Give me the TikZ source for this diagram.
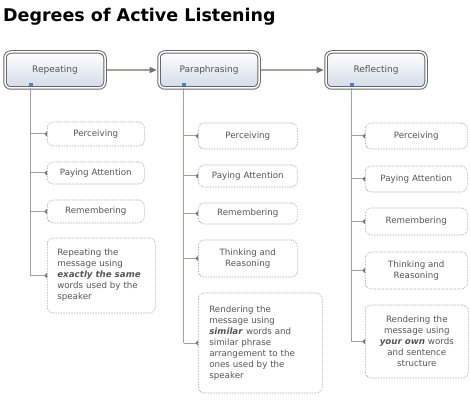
\documentclass[tikz,border=0pt]{standalone}
\usepackage{fontspec}
\setmainfont{DejaVu Sans}
\usetikzlibrary{arrows.meta,positioning}
\definecolor{linegray}{RGB}{165,160,152}
\definecolor{tipgray}{RGB}{115,115,115}
\definecolor{rimgray}{RGB}{105,105,105}
\definecolor{dotgray}{RGB}{135,135,135}
\definecolor{txtgray}{RGB}{85,85,85}
\definecolor{boxblue}{RGB}{210,219,232}
\definecolor{iconblue}{RGB}{70,130,210}
\tikzset{
  mainbox/.style={draw=rimgray,line width=1pt,double=white,double distance=1.5pt,
    rounded corners=6pt,top color=white,middle color=white,bottom color=boxblue,
    minimum width=100pt,minimum height=36pt,text=txtgray,font=\fontsize{9}{10}\selectfont},
  subbox/.style={draw=dotgray,densely dotted,line width=0.6pt,rounded corners=6pt,anchor=west,align=center,
    text=txtgray,font=\fontsize{8.7}{11}\selectfont},
  trunk/.style={draw=linegray,line width=1.2pt},
  branch/.style={draw=linegray,line width=1pt,-{Triangle[reversed,length=2.5pt,width=5pt,color=tipgray]}},
  flow/.style={draw=linegray,line width=1.2pt,shorten >=1.8pt,shorten <=1.8pt,
    -{Triangle[length=7pt,width=6pt,color=tipgray]}}
}
\begin{document}
\begin{tikzpicture}[x=1pt,y=-1pt]
\useasboundingbox (0,0) rectangle (470,403);
\node[anchor=base west,inner sep=0pt,font=\fontsize{17.5}{20}\selectfont\bfseries] (title) at (3,22) {Degrees of Active Listening};

% the three degrees
\node[mainbox] (rep) at (55,70) {Repeating};
\node[mainbox,right=53pt of rep] (para) {Paraphrasing};
\node[mainbox,right=66pt of para] (refl) {Reflecting};
\draw[flow] (rep) -- (para);
\draw[flow] (para) -- (refl);

\coordinate (t1) at ([xshift=26pt]rep.south west);
\coordinate (t2) at ([xshift=25pt]para.south west);
\coordinate (t3) at ([xshift=26pt]refl.south west);
\fill[iconblue] ([shift={(-2pt,2.5pt)}]t1) rectangle ([shift={(2pt,5.5pt)}]t1);
\fill[iconblue] ([shift={(-2pt,2.5pt)}]t2) rectangle ([shift={(2pt,5.5pt)}]t2);
\fill[iconblue] ([shift={(-2pt,2.5pt)}]t3) rectangle ([shift={(2pt,5.5pt)}]t3);

% repeating
\node[subbox,minimum width=97pt,minimum height=24pt] (perc1) at (47,134) {Perceiving};
\node[subbox,minimum width=97pt,minimum height=22pt] (pay1) at (47,173) {Paying Attention};
\node[subbox,minimum width=97pt,minimum height=23pt] (mem1) at (47,211.5) {Remembering};
\node[subbox,align=left,inner xsep=10pt,text width=88pt,minimum height=75pt] (def1) at (47,275.5)
  {Repeating the\\message using\\\textbf{\textit{exactly the same}}\\words used by the\\speaker};

% paraphrasing
\node[subbox,minimum width=99pt,minimum height=26pt] (perc2) at (198,136) {Perceiving};
\node[subbox,minimum width=99pt,minimum height=22pt] (pay2) at (198,176) {Paying Attention};
\node[subbox,minimum width=99pt,minimum height=21pt] (mem2) at (198,213.5) {Remembering};
\node[subbox,minimum width=99pt,minimum height=37pt] (think2) at (198,258.5) {Thinking and\\Reasoning};
\node[subbox,align=left,inner xsep=11pt,text width=102pt,minimum height=100pt] (def2) at (198,343)
  {Rendering the\\message using\\\textbf{\textit{similar}} words and\\similar phrase\\arrangement to the\\ones used by the\\speaker};

% reflecting
\node[subbox,minimum width=102pt,minimum height=26pt] (perc3) at (365,136) {Perceiving};
\node[subbox,minimum width=102pt,minimum height=26pt] (pay3) at (365,179) {Paying Attention};
\node[subbox,minimum width=102pt,minimum height=27pt] (mem3) at (365,221.5) {Remembering};
\node[subbox,minimum width=102pt,minimum height=37pt] (think3) at (365,270.5) {Thinking and\\Reasoning};
\node[subbox,inner xsep=7pt,text width=89pt,minimum height=73pt] (def3) at (365,341.5)
  {Rendering the\\message using\\\textbf{\textit{your own}} words\\and sentence\\structure};

% trunks and branches
\draw[trunk] (t1) -- (t1 |- def1.west);
\draw[trunk] (t2) -- (t2 |- def2.west);
\draw[trunk] (t3) -- (t3 |- def3.west);
\draw[branch] (t1 |- perc1.west) -- (perc1.west);
\draw[branch] (t1 |- pay1.west) -- (pay1.west);
\draw[branch] (t1 |- mem1.west) -- (mem1.west);
\draw[branch] (t1 |- def1.west) -- (def1.west);
\draw[branch] (t2 |- perc2.west) -- (perc2.west);
\draw[branch] (t2 |- pay2.west) -- (pay2.west);
\draw[branch] (t2 |- mem2.west) -- (mem2.west);
\draw[branch] (t2 |- think2.west) -- (think2.west);
\draw[branch] (t2 |- def2.west) -- (def2.west);
\draw[branch] (t3 |- perc3.west) -- (perc3.west);
\draw[branch] (t3 |- pay3.west) -- (pay3.west);
\draw[branch] (t3 |- mem3.west) -- (mem3.west);
\draw[branch] (t3 |- think3.west) -- (think3.west);
\draw[branch] (t3 |- def3.west) -- (def3.west);
\end{tikzpicture}
\end{document}
